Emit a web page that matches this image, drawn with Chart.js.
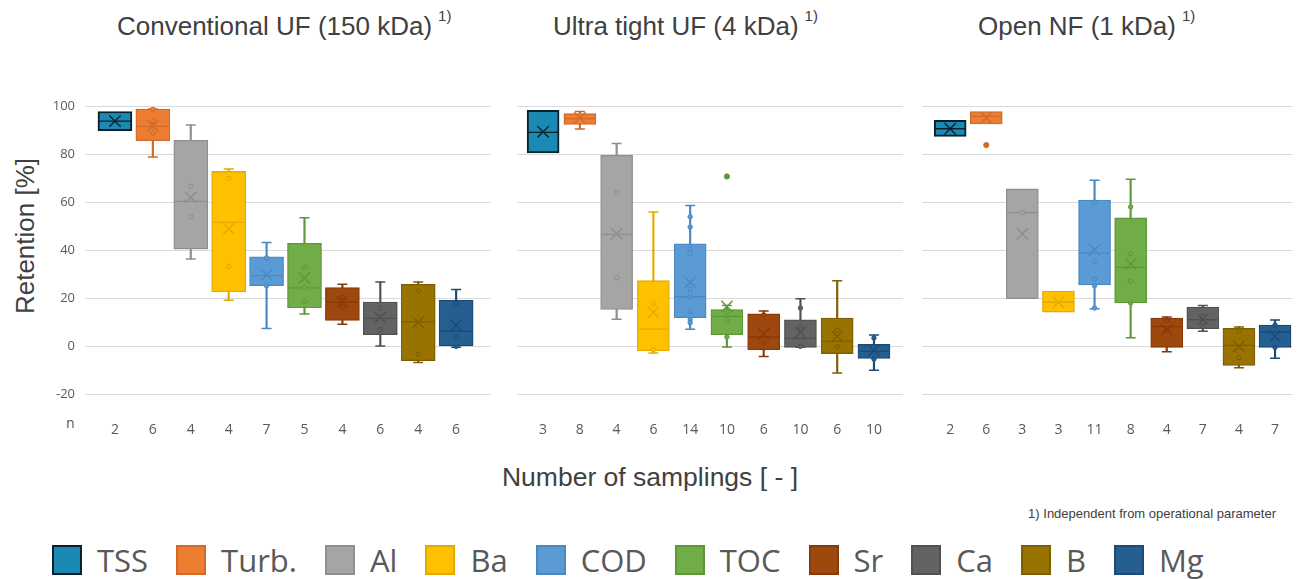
<!DOCTYPE html>
<html>
<head>
<meta charset="utf-8">
<script src="https://cdn.jsdelivr.net/npm/chart.js@4.4.1/dist/chart.umd.min.js"></script>
<style>
  body { margin: 0; background: #fff; }
  #wrap { position: relative; width: 1298px; height: 579px; overflow: hidden; font-family: "Liberation Sans", Arial, sans-serif; color: #404040; }
  .title { position: absolute; top: 11px; font-size: 26px; white-space: nowrap; }
  .title sup { font-size: 15px; position: relative; top: -4px; margin-left: 6px; }
  canvas { position: absolute; }
  #ytitle { position: absolute; left: 25px; top: 236px; font-size: 26px; white-space: nowrap; transform: translate(-50%, -50%) rotate(-90deg); }
  #nlabel { position: absolute; left: 66px; top: 413px; font-family: "Open Sans", sans-serif; font-size: 14px; color: #595959; }
  #xtitle { position: absolute; left: 650px; top: 462px; font-size: 26.5px; transform: translateX(-50%); white-space: nowrap; }
  #note { position: absolute; right: 22px; top: 506px; font-size: 13px; white-space: nowrap; }
  #legend { position: absolute; left: 52px; top: 539px; display: flex; align-items: center; font-family: "Open Sans", sans-serif; font-size: 31px; color: #595959; }
  #legend .item { display: flex; align-items: center; margin-right: 28px; }
  #legend .sw { width: 26px; height: 26px; border: 2px solid; margin-right: 15px; }
</style>
</head>
<body>
<div id="wrap">
  <div class="title" style="left:117px">Conventional UF (150 kDa)<sup>1)</sup></div>
  <div class="title" style="left:553px">Ultra tight UF (4 kDa)<sup>1)</sup></div>
  <div class="title" style="left:978px">Open NF (1 kDa)<sup>1)</sup></div>
  <div id="ytitle">Retention [%]</div>
  <div id="nlabel">n</div>
  <canvas id="c0" width="496" height="350" style="left:0px;top:90px"></canvas>
  <canvas id="c1" width="396" height="350" style="left:512px;top:90px"></canvas>
  <canvas id="c2" width="380" height="350" style="left:917px;top:90px"></canvas>
  <div id="xtitle">Number of samplings [ - ]</div>
  <div id="note">1) Independent from operational parameter</div>
  <div id="legend"></div>
</div>
<script>
const components = ['TSS', 'Turb.', 'Al', 'Ba', 'COD', 'TOC', 'Sr', 'Ca', 'B', 'Mg']
const yTicks = [-20, 0, 20, 40, 60, 80, 100]

// one row per panel: Conventional UF, Ultra tight UF, Open NF
const samplings = [
  [2, 6, 4, 4, 7, 5, 4, 6, 4, 6],
  [3, 8, 4, 6, 14, 10, 6, 10, 6, 10],
  [2, 6, 3, 3, 11, 8, 4, 7, 4, 7]
]
const lowerQuartile = [
  [90, 85.8, 40.6, 22.7, 25.3, 16.1, 10.8, 4.9, -6, 0],
  [80.7, 92.6, 15.4, -1.9, 12, 4.9, -1.4, -0.4, -3, -5],
  [87.6, 92.8, 19.9, 14.3, 25.6, 18.1, -0.4, 7.4, -8, -0.4]
]
const upperQuartile = [
  [98, 99, 86, 73, 37.4, 43, 24.5, 18.5, 25.9, 19.2],
  [98.5, 97.1, 79.7, 27.4, 42.8, 15.3, 13.6, 11.1, 11.8, 0.8],
  [94.3, 98, 65.7, 23.1, 61, 53.6, 11.8, 16.4, 7.5, 8.9]
]
const medians = [
  [94, 91.8, 60.5, 51.7, 29.5, 24.4, 18.5, 11.7, 10.2, 6.3],
  [89.3, 95, 46.7, 7.2, 20.7, 12.5, 3.9, 3.3, 2.1, -2.1],
  [90.8, 96, 55.8, 18.4, 39, 33, 8.2, 11.1, 0.4, 6]
]
const means = [
  [94, 92, 62.2, 49.1, 29.8, 28.5, 18.5, 12.1, 10, 8.8],
  [89.5, 95.3, 47, 14.2, 26.7, 16.7, 5.2, 5.8, 4.2, -1.7],
  [90.8, 95.4, 47, 18.4, 40.3, 34.4, 7, 11.3, 0, 4.2]
]
// null = no whisker drawn
const whiskerLow = [
  [null, 79, 36.5, 19.2, 7.5, 13.5, 9.2, 0.2, -6.7, -0.4],
  [null, 90.7, 11.3, -2.8, 7.1, -0.3, -4.2, -0.4, -11.1, -10],
  [null, null, null, null, 15.7, 3.6, -2.2, 6.3, -8.9, -5]
]
const whiskerHigh = [
  [null, 99, 92.4, 74, 43.3, 53.7, 25.9, 26.9, 26.9, 23.7],
  [null, 98, 84.6, 56.1, 58.8, 17.1, 14.8, 19.9, 27.4, 4.7],
  [null, null, null, null, 69.3, 69.7, 12.3, 17, 8.1, 11]
]
const samplePoints = [
  [[], [99, 94, 92, 89], [66.8, 54.2], [70.1, 33.3], [36.9, 25.3], [33, 24.4, 18.8], [20.5, 16.3], [16, 7], [23.2, -3.3], [18.1, 3.9, 0]],
  [[], [], [64.2, 28.7], [17.8, -1.4], [54.1, 49.8, 40.6, 38.7, 23.7, 20.7, 14.5, 11.1, 9.8], [14.6, 11.1, 3.9], [13.1, 1.4], [16, 8.1, 6.7, 0], [6.7, -0.1], [3.5, -5.3]],
  [[], [], [55.8], [], [60.1, 35.5, 28.1, 25.3, 16], [58.2, 38.7, 27.3, 18.1], [10.7, 6.7], [12.5, 9.8, 8.1], [6.3, -4.7], [8.9, -0.4]]
]
const outliers = [
  [[], [], [], [], [], [], [], [], [], []],
  [[], [], [], [], [], [70.9], [], [], [], []],
  [[], [84], [], [], [], [], [], [], [], []]
]

const fillColors = ['#1a8ab4', '#ed7d31', '#a5a5a5', '#ffc000', '#5b9bd5', '#70ad47', '#9e480e', '#636363', '#997300', '#255e91']
const lineColors = ['#0d1f2a', '#d0692a', '#8e8e8e', '#e3aa00', '#4a88c2', '#5e9739', '#86390a', '#505050', '#7d5e00', '#1c4a75']

// plot area geometry per panel (axis range and box width)
const panels = [
  { min: -0.79, max: 9.92, box: 34, yAxis: 85, padL: 0 },
  { min: -0.71, max: 9.79, box: 32, yAxis: 0, padL: 5 },
  { min: -0.78, max: 9.47, box: 32, yAxis: 0, padL: 5 }
]

function makeChart(p) {
  const cfg = panels[p]
  const boxes = [], whiskers = [], caps = [], meds = [], avgs = [], pts = [], outs = []
  components.forEach((c, i) => {
    boxes.push({ x: i, y: [lowerQuartile[p][i], upperQuartile[p][i]] })
    meds.push({ x: i, y: medians[p][i] })
    avgs.push({ x: i, y: means[p][i] })
    if (whiskerLow[p][i] !== null) {
      whiskers.push({ x: i, y: [whiskerLow[p][i], whiskerHigh[p][i]] })
      caps.push({ x: i, y: whiskerLow[p][i] })
      caps.push({ x: i, y: whiskerHigh[p][i] })
    }
    samplePoints[p][i].forEach(v => pts.push({ x: i, y: v }))
    outliers[p][i].forEach(v => outs.push({ x: i, y: v }))
  })

  const fill = ctx => fillColors[ctx.raw ? ctx.raw.x : 0]
  const line = ctx => lineColors[ctx.raw ? ctx.raw.x : 0]

  new Chart(document.getElementById('c' + p), {
    type: 'bar',
    data: {
      datasets: [
        { type: 'bar', data: whiskers, barThickness: 1.5, grouped: false, backgroundColor: line, order: 6 },
        { type: 'bar', data: boxes, barThickness: cfg.box, grouped: false, backgroundColor: fill, borderColor: line,
          borderWidth: ctx => (ctx.raw && ctx.raw.x === 0 ? 2 : 1.3), borderSkipped: false, order: 5 },
        { type: 'scatter', data: caps, pointStyle: 'line', pointRadius: 5, borderColor: line, pointBorderWidth: 1.5, order: 4 },
        { type: 'scatter', data: meds, pointStyle: 'line', pointRadius: cfg.box / 2 - 1, borderColor: line, pointBorderWidth: 1.3, order: 4 },
        { type: 'scatter', data: pts, pointStyle: 'circle', pointRadius: 2.2, backgroundColor: fill, borderColor: line, pointBorderWidth: 1, order: 3 },
        { type: 'scatter', data: outs, pointStyle: 'circle', pointRadius: 2.6, backgroundColor: line, borderColor: line, pointBorderWidth: 1, order: 3 },
        { type: 'scatter', data: avgs, pointStyle: 'crossRot', pointRadius: 8, borderColor: line, pointBorderWidth: 1.4, order: 2 }
      ]
    },
    options: {
      responsive: false,
      animation: false,
      events: [],
      layout: { padding: { top: 16.7, left: cfg.padL, right: 5, bottom: 0 }, autoPadding: false },
      plugins: { legend: { display: false }, tooltip: { enabled: false } },
      scales: {
        x: {
          type: 'linear',
          min: cfg.min,
          max: cfg.max,
          offset: false,
          grid: { display: false },
          border: { display: false },
          afterBuildTicks: s => { s.ticks = samplings[p].map((n, i) => ({ value: i })) },
          afterFit: s => { s.height = 45.7; s.paddingLeft = 0; s.paddingRight = 0 },
          ticks: {
            autoSkip: false,
            maxRotation: 0,
            padding: 19,
            color: '#595959',
            font: { family: 'Open Sans', size: 14 },
            callback: (v, i) => samplings[p][i]
          }
        },
        y: {
          min: -20,
          max: 100,
          afterBuildTicks: s => { s.ticks = yTicks.map(v => ({ value: v })) },
          afterFit: s => { s.width = cfg.yAxis; s.paddingTop = 0; s.paddingBottom = 0 },
          grid: { color: '#d9d9d9', drawTicks: false },
          border: { display: false },
          ticks: {
            display: p === 0,
            padding: 10,
            color: '#595959',
            font: { family: 'Open Sans', size: 13 }
          }
        }
      }
    }
  })
}

[0, 1, 2].forEach(makeChart)

// legend
const legend = document.getElementById('legend')
components.forEach((c, i) => {
  const item = document.createElement('div')
  item.className = 'item'
  const sw = document.createElement('div')
  sw.className = 'sw'
  sw.style.background = fillColors[i]
  sw.style.borderColor = lineColors[i]
  const label = document.createElement('span')
  label.textContent = c
  item.appendChild(sw)
  item.appendChild(label)
  legend.appendChild(item)
})
</script>
</body>
</html>
